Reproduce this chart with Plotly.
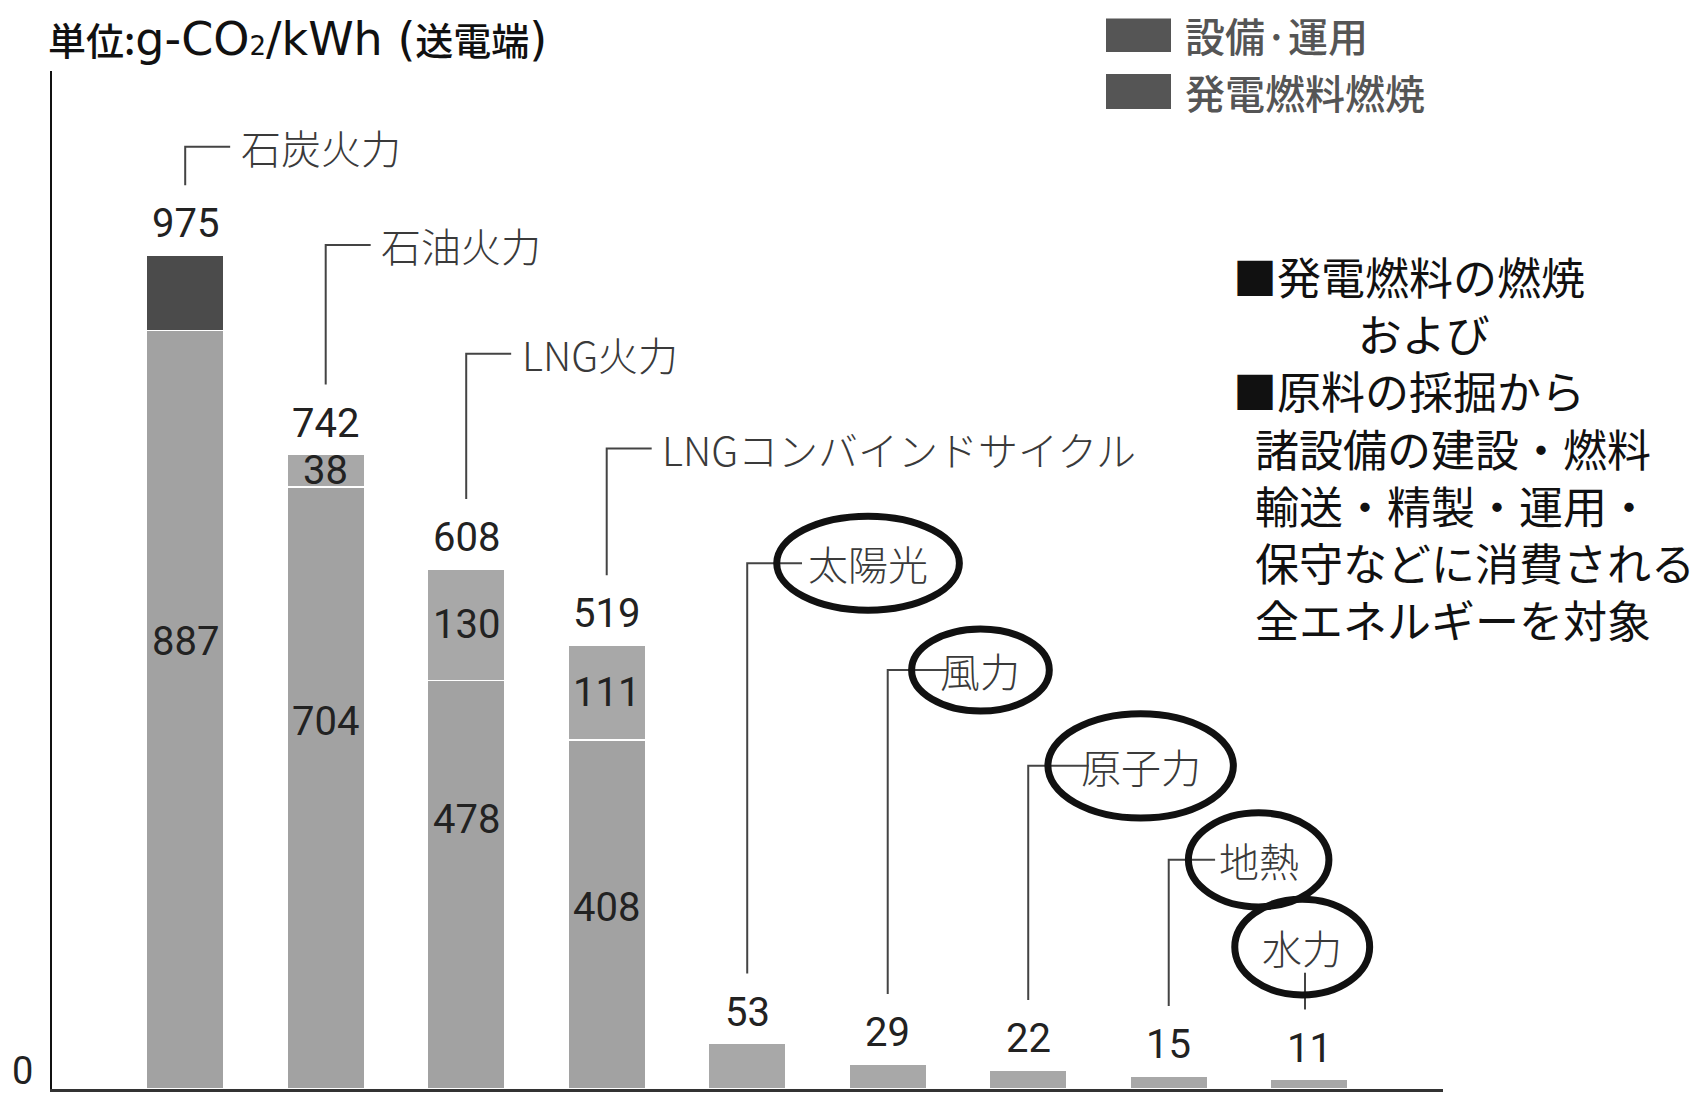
import plotly.graph_objects as go

# ---- data -------------------------------------------------------------
categories = ["石炭火力", "石油火力", "LNG火力", "LNGコンバインドサイクル",
              "太陽光", "風力", "原子力", "地熱", "水力"]
fuel_combustion = [887, 704, 478, 408, 0, 0, 0, 0, 0]        # 発電燃料燃焼
facility_operation = [88, 38, 130, 111, 53, 29, 22, 15, 11]  # 設備·運用
totals = [f + e for f, e in zip(fuel_combustion, facility_operation)]

series_names = ["設備·運用", "発電燃料燃焼"]
note_lines = ["■発電燃料の燃焼", "\u3000\u3000\u2002\u2004および", "■原料の採掘から",
              "\u2002諸設備の建設・燃料", "\u2002輸送・精製・運用・",
              "\u2002保守などに消費される", "\u2002全エネルギーを対象"]

# ---- layout constants -------------------------------------------------
W, H = 1708, 1095
M = dict(l=52, r=265, t=71, b=6)
X_RANGE = [-0.948, 8.952]
Y_RANGE = [0, 1190.6]
PW, PH = W - M["l"] - M["r"], H - M["t"] - M["b"]


def px(x):
    return (x - M["l"]) / PW


def py(y):
    return (H - M["b"] - y) / PH


NUM_FONT = dict(family="Roboto, Liberation Sans, sans-serif", size=40, color="#222222")
CAT_FONT = dict(family="Noto Sans CJK JP", size=40, color="#3a3a3a", weight=300)
LEAD_COLOR = "#444444"
BAR_W = 0.55

# unit title: CJK parts in Noto, the unit itself in a wider Latin face
LAT = "font-family:'DejaVu Sans';font-size:46px;font-weight:normal"
unit_title = (f"単位:<span style=\"{LAT}\">g-CO</span>"
              f"<span style=\"font-family:'DejaVu Sans';font-size:26px\">2</span>"
              f"<span style=\"{LAT}\">/kWh (</span>送電端"
              f"<span style=\"{LAT}\">)</span>")

# colours: the coal facility segment is dark, everything else light grey
fuel_color = "#a2a2a2"
facility_colors = ["#4b4b4b"] + ["#a8a8a8"] * (len(categories) - 1)

# vertical position of each category caption (data units)
label_y = [1102, 987, 860, 749, 615, 490, 378, 268, 166]
LEADER_GAP = 82          # leader stops this far above the bar value
HOOK_LEN = 0.32          # horizontal hook of plain captions
# circled captions: index -> (centre dx, rx, ry, hook end dx or None)
circles = {4: (0.86, 0.65, 55, 0.39),
           5: (0.66, 0.49, 48, 0.43),
           6: (0.80, 0.66, 61, 0.43),
           7: (0.64, 0.50, 55, 0.33),
           8: (-0.05, 0.48, 56, None)}
fuel_label_frac = [0.59, 0.61, 0.66, 0.52]
show_facility_label = [False, True, True, True, False, False, False, False, False]

xs = list(range(len(categories)))

fig = go.Figure()
fig.add_bar(x=xs, y=[v if v else None for v in fuel_combustion],
            name=series_names[1], width=BAR_W, hovertext=categories,
            marker=dict(color=fuel_color, line=dict(color="white", width=1.5)))
fig.add_bar(x=xs, y=facility_operation, name=series_names[0], width=BAR_W,
            hovertext=categories,
            marker=dict(color=facility_colors, line=dict(color="white", width=1.5)))

ann = []
shapes = []


def note(x, y, text, font, xanchor="left", yanchor="middle", **kw):
    ann.append(dict(x=x, y=y, xref="paper", yref="paper", text=text,
                    showarrow=False, xanchor=xanchor, yanchor=yanchor, font=font,
                    **kw))


# totals above bars
for i, t in enumerate(totals):
    ann.append(dict(x=i, y=t, xref="x", yref="y", text=str(t), showarrow=False,
                    xanchor="center", yanchor="bottom", yshift=6, font=NUM_FONT))

# numbers inside segments
for i, f in enumerate(fuel_combustion):
    if f > 0:
        ann.append(dict(x=i, y=f * fuel_label_frac[i], xref="x", yref="y",
                        text=str(f), showarrow=False, xanchor="center",
                        yanchor="middle", font=NUM_FONT))
    if show_facility_label[i]:
        ann.append(dict(x=i, y=f + facility_operation[i] / 2, xref="x", yref="y",
                        text=str(facility_operation[i]), showarrow=False,
                        xanchor="center", yanchor="middle", font=NUM_FONT))

# captions with leader lines
for i, name in enumerate(categories):
    ly = label_y[i]
    bottom = totals[i] + LEADER_GAP
    if i not in circles:
        shapes.append(dict(type="path", xref="x", yref="y",
                           path=f"M {i},{bottom} L {i},{ly} L {i + HOOK_LEN},{ly}",
                           line=dict(color=LEAD_COLOR, width=2)))
        ann.append(dict(x=i + HOOK_LEN + 0.06, y=ly, xref="x", yref="y", text=name,
                        showarrow=False, xanchor="left", yanchor="middle",
                        font=CAT_FONT))
    else:
        dx, rx, ry, hook = circles[i]
        cx = i + dx
        if hook is not None:
            shapes.append(dict(type="path", xref="x", yref="y",
                               path=f"M {i},{bottom} L {i},{ly} L {i + hook},{ly}",
                               line=dict(color=LEAD_COLOR, width=2)))
        else:
            shapes.append(dict(type="line", xref="x", yref="y",
                               x0=cx + 0.02, x1=cx + 0.02, y0=ly - 30, y1=bottom,
                               line=dict(color=LEAD_COLOR, width=2)))
        shapes.append(dict(type="circle", xref="x", yref="y",
                           x0=cx - rx, x1=cx + rx, y0=ly - ry, y1=ly + ry,
                           line=dict(color="#111111", width=7)))
        ann.append(dict(x=cx, y=ly, xref="x", yref="y", text=name,
                        showarrow=False, xanchor="center", yanchor="middle",
                        font=CAT_FONT))

# zero label
note(px(23), py(1095), "0", dict(NUM_FONT, size=38), xanchor="center",
     yanchor="bottom")

# unit title
note(px(46), py(38), unit_title,
     dict(family="Noto Sans CJK JP", size=38, color="#111111", weight=500))

# legend
leg_rows = [(18.5, 52, series_names[0]), (74, 109, series_names[1])]
for y0, y1, label in leg_rows:
    shapes.append(dict(type="rect", xref="paper", yref="paper",
                       x0=px(1106), x1=px(1171), y0=py(y1), y1=py(y0),
                       fillcolor="#555555", line=dict(width=0)))
    note(px(1183), py((y0 + y1) / 2), label,
         dict(family="Noto Sans CJK JP", size=40, color="#555555", weight=500))

# explanatory note, one left-aligned block
note(px(1231), py(447), "<br>".join(note_lines),
     dict(family="Noto Sans CJK JP", size=44, color="#111111"), align="left")

fig.update_layout(
    width=W, height=H, margin=M, barmode="stack", showlegend=False,
    plot_bgcolor="white", paper_bgcolor="white",
    xaxis=dict(range=X_RANGE, showgrid=False, zeroline=False, showticklabels=False,
               ticks="", showline=True, linecolor="#333333", linewidth=3),
    yaxis=dict(range=Y_RANGE, showgrid=False, zeroline=False, showticklabels=False,
               ticks="", showline=True, linecolor="#111111", linewidth=2),
    annotations=ann, shapes=shapes,
)

fig.write_html("out.html")
